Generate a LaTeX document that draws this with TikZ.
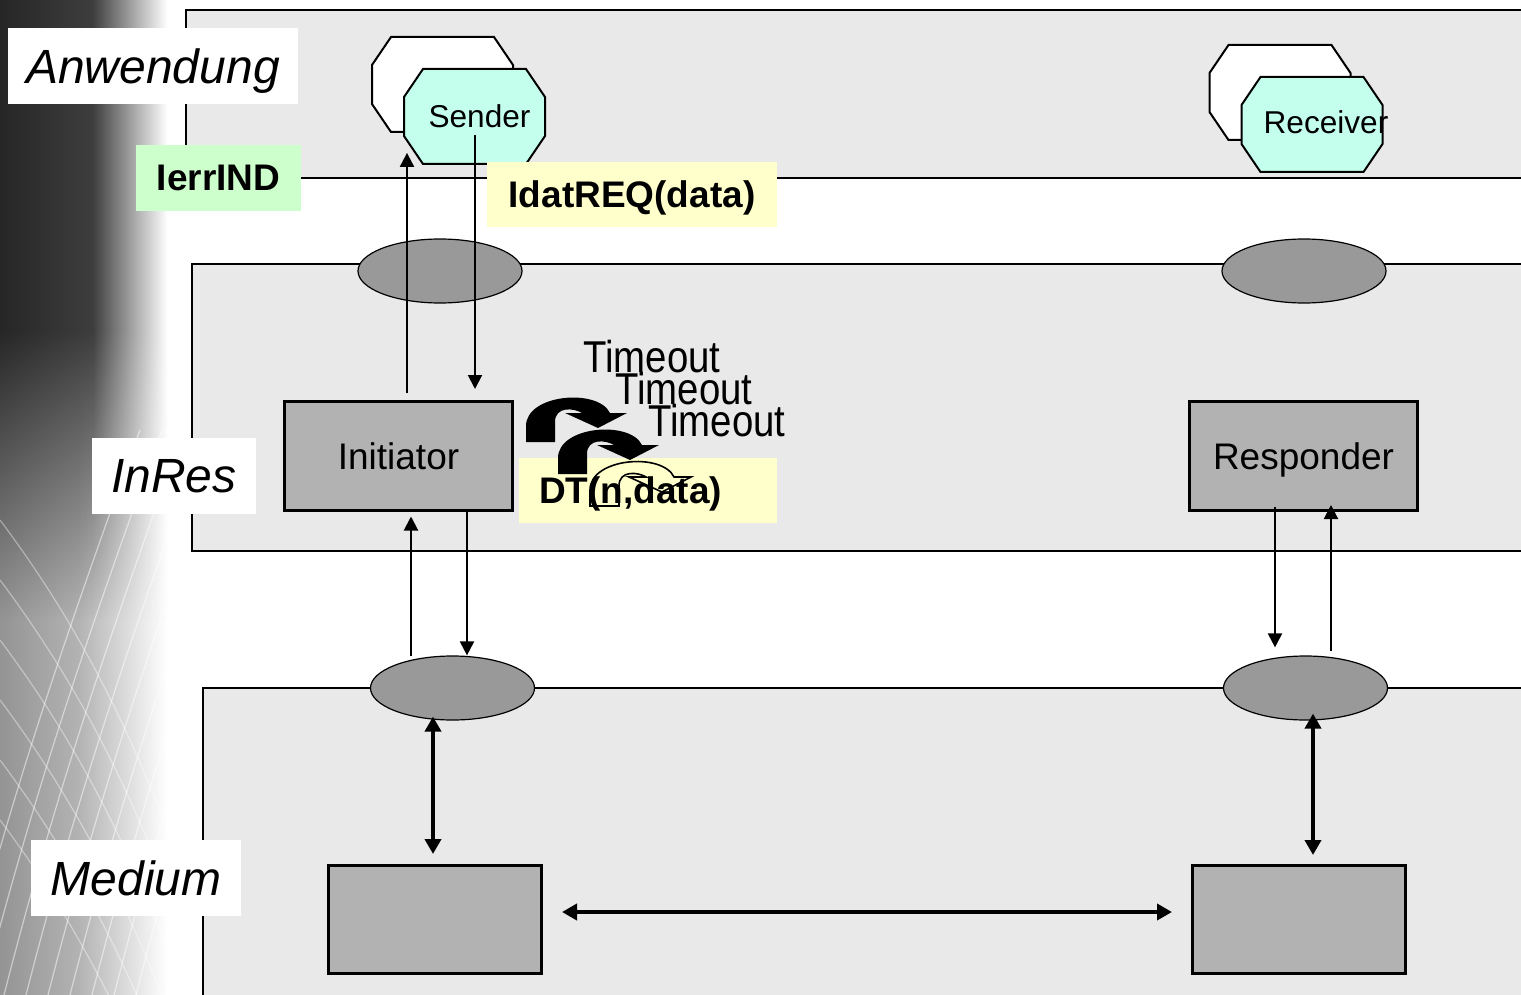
\documentclass[tikz,border=0pt]{standalone}
\usepackage{fontspec}
\setmainfont{Liberation Sans}
\usepackage{graphicx}
\usepackage{tikz}
\usetikzlibrary{arrows.meta, shapes.geometric, fadings}
\definecolor{layergray}{HTML}{E9E9E9}
\definecolor{sapgray}{HTML}{999999}
\definecolor{entgray}{HTML}{B2B2B2}
\definecolor{octcyan}{HTML}{C4FFEE}
\definecolor{primyellow}{HTML}{FFFFCC}
\definecolor{primgreen}{HTML}{CCFFCC}
\pgfdeclarehorizontalshading{stripdark}{100bp}{color(0bp)=(black!85); color(25bp)=(black!85);
    color(51bp)=(black!76); color(72bp)=(white); color(100bp)=(white)}
\pgfdeclarehorizontalshading{striplight}{100bp}{color(0bp)=(black!42); color(25bp)=(black!42);
    color(47bp)=(black!30); color(72bp)=(white); color(100bp)=(white)}
\tikzfading[name=fadedown, top color=transparent!0, bottom color=transparent!100]
\tikzset{
    bentarr/.pic={
        \path[pic actions] (0,0) -- (0,-16)
            .. controls (0,-48) and (72,-54) .. (84,-29)
            -- (101,-29) -- (72,-14) -- (39,-29) -- (56,-29)
            .. controls (48,-34) and (29,-36) .. (29,-20) -- (29,0) -- cycle;
    }
}

\begin{document}
\begin{tikzpicture}[
        x=0.5pt, y=-0.5pt,
        every node/.style={align=center, anchor=center},
        layer/.style={fill=layergray, draw=black, line width=0.75pt},
        laylbl/.style={rectangle, fill=white, font=\fontsize{24}{28}\selectfont\itshape,
                       minimum height=38pt, inner sep=0pt, text depth=0pt},
        prim/.style={rectangle, font=\fontsize{18.5}{22}\selectfont\bfseries,
                     minimum height=32.5pt, inner sep=0pt, text depth=0pt},
        octnode/.style={rectangle, minimum width=72pt, minimum height=49pt, inner sep=0pt,
                        font=\fontsize{15.8}{19}\selectfont,
                        path picture={\draw[line width=1pt, fill=#1]
                            ([shift={(10.25pt,-0.75pt)}]path picture bounding box.north west)
                            -- ([shift={(-10.25pt,-0.75pt)}]path picture bounding box.north east)
                            -- ([shift={(-0.75pt,-14.75pt)}]path picture bounding box.north east)
                            -- ([shift={(-0.75pt,14.75pt)}]path picture bounding box.south east)
                            -- ([shift={(-10.25pt,0.75pt)}]path picture bounding box.south east)
                            -- ([shift={(10.25pt,0.75pt)}]path picture bounding box.south west)
                            -- ([shift={(0.75pt,14.75pt)}]path picture bounding box.south west)
                            -- ([shift={(0.75pt,-14.75pt)}]path picture bounding box.north west)
                            -- cycle;}},
        sap/.style={ellipse, fill=sapgray, draw=black, line width=0.6pt,
                    minimum width=82pt, minimum height=32pt, inner sep=0pt},
        entity/.style={rectangle, fill=entgray, draw=black, line width=1.5pt,
                       minimum width=114pt, minimum height=54.5pt, text depth=0pt,
                       font=\fontsize{18.5}{22}\selectfont},
        sig/.style={-{Triangle[length=7pt,width=7pt]}, line width=1pt},
        wire/.style={{Triangle[length=7.5pt,width=8pt]}-{Triangle[length=7.5pt,width=8pt]},
                     line width=2pt},
        tmo/.style={anchor=base west, font=\fontsize{22.3}{26}\selectfont, inner sep=0pt}
    ]
        \useasboundingbox (0,0) rectangle (1521,995);
        \clip (0,0) rectangle (1521,995);

        % backdrop strip
        \shade[shading=stripdark] (0,0) rectangle (178,995);
        \shade[shading=striplight] (0,330) rectangle (178,995);
        \shade[shading=stripdark, path fading=fadedown] (0,330) rectangle (178,620);
        \foreach \s in {0,22,...,176}
            \draw[white, opacity=.5, line width=.6pt]
                (\s-40,995) .. controls (\s+10,800) and (\s+60,650) .. (\s+140,430);
        \foreach \s in {0,30,...,150}
            \draw[white, opacity=.4, line width=.6pt]
                (0,\s*2+520) .. controls (60,\s*2+600) and (120,\s*2+700) .. (175,\s*2+850);

        \draw[layer] (186,10) rectangle (1540,178);
        \draw[layer] (192,264) rectangle (1540,551);
        \draw[layer] (203,688) rectangle (1540,1010);

        \node[laylbl, minimum width=145pt] (anwlbl)   at (153,66)  {Anwendung};
        \node[laylbl, minimum width=82pt]  (inreslbl) at (174,476) {InRes};
        \node[laylbl, minimum width=105pt] (medlbl)   at (136,878) {Medium};

        \node[octnode=white]   (sendback) at (442.5,84.5)  {};
        \node[octnode=octcyan] (sender)   at (474.5,116.5) {\hspace*{5pt}Sender};
        \node[octnode=white]   (recvback) at (1280,92.5)   {};
        \node[octnode=octcyan] (receiver) at (1312,124.5)  {};
        \node[font=\fontsize{15.8}{19}\selectfont, inner sep=0pt] (recvtxt) at (1326,122) {Receiver};

        \node[prim, fill=primgreen, minimum width=82.5pt] (ierr) at (218.5,178) {IerrIND};
        \node[prim, fill=primyellow, minimum width=145pt] (idat) at (632,194.5) {IdatREQ(data)};

        \node[sap] (sap1) at (440,271)    {};
        \node[sap] (sap2) at (1304,271)   {};
        \node[sap] (sap3) at (452.5,688)  {};
        \node[sap] (sap4) at (1305.5,688) {};

        \node[entity] (init) at (398.5,456)  {Initiator};
        \node[entity] (resp) at (1303.5,456) {Responder};
        \node[entity, minimum width=106.5pt, minimum height=54pt] (medl) at (435,919.5)  {};
        \node[entity, minimum width=106.5pt, minimum height=54pt] (medr) at (1299,919.5) {};

        \node[prim, fill=primyellow, text width=109pt, inner xsep=10pt, align=left]
            (dt) at (648,490.5) {DT(n,data)};

        \draw[sig] ([xshift=4.25pt,yshift=3.5pt]init.north) -- ([xshift=-33.75pt,yshift=6.5pt]sender.south);
        \draw[sig] ([xshift=0.25pt,yshift=-9.25pt]sender.center) -- ([xshift=38.25pt,yshift=5.5pt]init.north);
        \draw[sig] ([xshift=-20.75pt,yshift=-0.5pt]sap3.north) -- ([xshift=6.25pt,yshift=-2.25pt]init.south);
        \draw[sig] ([xshift=34.25pt]init.south) -- ([xshift=7.25pt]sap3.north);
        \draw[sig] ([xshift=-14.25pt,yshift=2.5pt]resp.south) -- ([xshift=-15.25pt,yshift=4pt]sap4.north);
        \draw[sig] ([xshift=12.75pt,yshift=2pt]sap4.north) -- ([xshift=13.75pt,yshift=3.5pt]resp.south);

        \draw[wire] ([xshift=-9.75pt,yshift=2pt]sap3.south) -- ([xshift=-1pt,yshift=5pt]medl.north);
        \draw[wire] ([xshift=3.75pt,yshift=3.5pt]sap4.south) -- ([xshift=7pt,yshift=4.5pt]medr.north);
        \draw[wire] ([xshift=9.5pt,yshift=3.75pt]medl.east) -- ([xshift=-9.5pt,yshift=3.75pt]medr.west);

        \node[tmo] (tmo1) at (583,372) {\scalebox{0.86}[1]{Timeout}};
        \node[tmo] (tmo2) at (615,404) {\scalebox{0.86}[1]{Timeout}};
        \node[tmo] (tmo3) at (648,436) {\scalebox{0.86}[1]{Timeout}};

        \pic[fill=black] at (526,442) {bentarr};
        \pic[fill=black] at (558,474) {bentarr};
        \pic[draw=black, line width=0.8pt] at (590,506) {bentarr};
    \end{tikzpicture}
\end{document}
